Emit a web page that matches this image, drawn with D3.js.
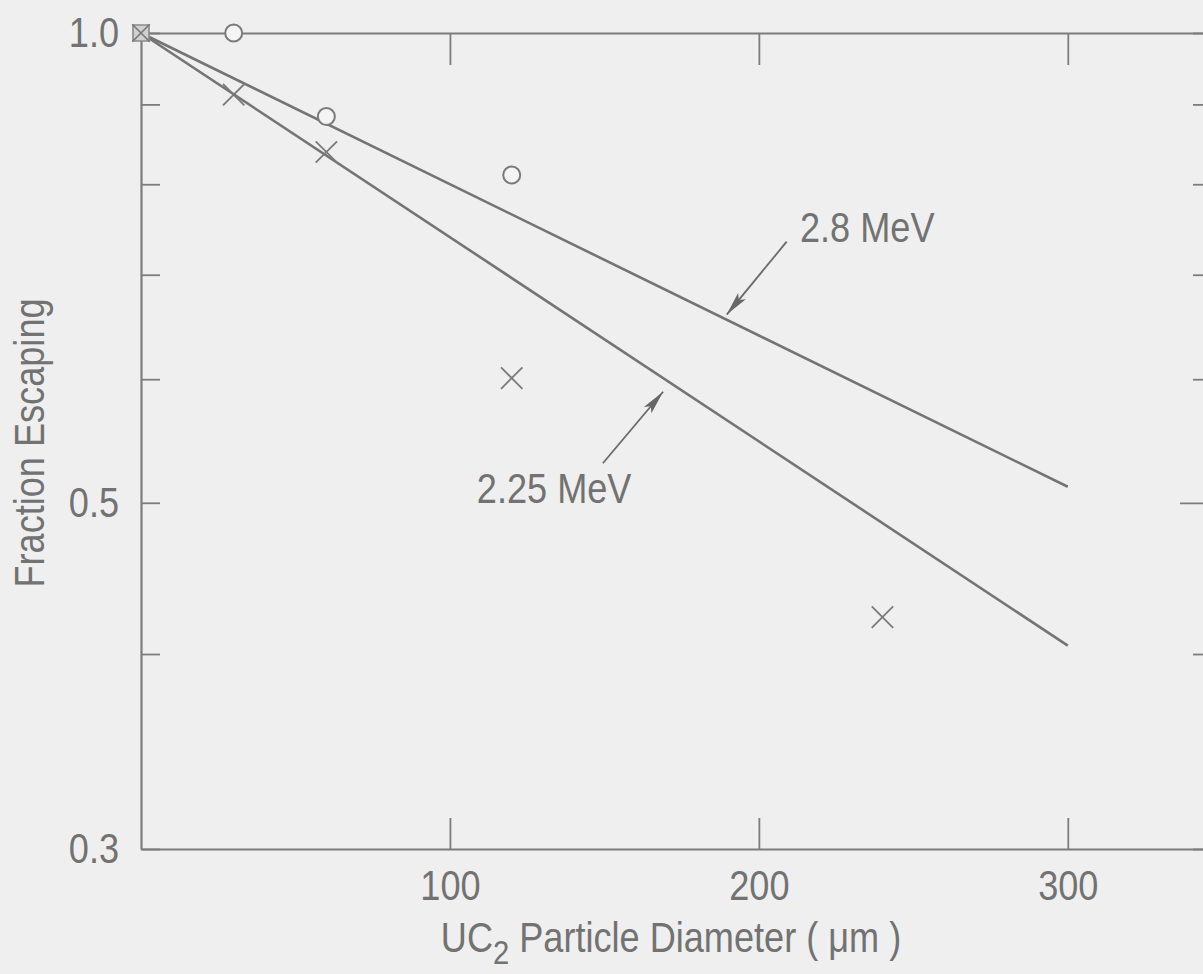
<!DOCTYPE html>
<html>
<head>
<meta charset="utf-8">
<script src="https://cdn.jsdelivr.net/npm/d3@7"></script>
<style>
  html, body { margin: 0; padding: 0; background: #efefef; }
  svg { display: block; }
  text { font-family: "Liberation Sans Narrow", "Arial Narrow", "Liberation Sans", sans-serif; fill: #727272; }
</style>
</head>
<body>
<svg id="chart" width="1203" height="974"></svg>
<script>
// ---- data ----
const xTicks = [100, 200, 300];
const yTicks = [0.3, 0.4, 0.5, 0.6, 0.7, 0.8, 0.9, 1.0];
const yLabelTicks = [0.3, 0.5, 1.0];

// measured points, 2.8 MeV (circles)
const circleX = [30, 60, 120];
const circleY = [1.0, 0.884, 0.811];
// measured points, 2.25 MeV (crosses)
const crossX = [30, 60, 120, 240];
const crossY = [0.913, 0.839, 0.601, 0.4224];
// shared point at origin
const sharedX = [0];
const sharedY = [1.0];

// calculated curves
const curveX = [0, 300];
const curve28 = [1.0, 0.512];
const curve225 = [1.0, 0.405];

// annotations (data coordinates)
const labels = ["2.8 MeV", "2.25 MeV"];
const labelX = [213.3, 108.7];
const labelY = [0.735, 0.500];
const arrowFromX = [209, 149.5];
const arrowFromY = [0.735, 0.530];
const arrowToX = [189.6, 169];
const arrowToY = [0.66, 0.589];

// ---- chart ----
(function () {
const svg = d3.select("#chart");
const mL = 141, mR = 1213, mT = 33, mB = 849;
const ink = "#7c7c7c";
const FS = 42, SQ = 0.86;

function squeeze(sel) {
  sel.each(function () {
    const w = this.getComputedTextLength();
    if (w > 0) d3.select(this).attr("textLength", w * SQ).attr("lengthAdjust", "spacingAndGlyphs");
  });
}

const x = d3.scaleLinear().domain([0, 347]).range([mL, mR]);
const y = d3.scaleLog().domain([0.3, 1.0]).range([mB, mT]);

const fmt = d => yLabelTicks.includes(d) ? d3.format(".1f")(d) : "";

const gL = svg.append("g").attr("transform", `translate(${mL},0)`)
  .call(d3.axisLeft(y).tickValues(yTicks).tickFormat(fmt).tickSizeInner(-19).tickSizeOuter(0).tickPadding(22));
const gR = svg.append("g").attr("transform", `translate(${mR},0)`)
  .call(d3.axisRight(y).tickValues(yTicks).tickFormat("").tickSizeInner(-20).tickSizeOuter(0));
gR.selectAll(".tick line").attr("x2", d => d === 0.5 ? -33 : -20);
const gB = svg.append("g").attr("transform", `translate(0,${mB})`)
  .call(d3.axisBottom(x).tickValues(xTicks).tickFormat(d3.format("d")).tickSizeInner(-31).tickSizeOuter(0).tickPadding(21));
const gT = svg.append("g").attr("transform", `translate(0,${mT})`)
  .call(d3.axisTop(x).tickValues(xTicks).tickFormat("").tickSizeInner(-32).tickSizeOuter(0));

[gL, gR, gB, gT].forEach(g => {
  g.attr("font-family", null).attr("font-size", null);
  g.select(".domain").attr("stroke", ink).attr("stroke-width", 2.2);
  g.selectAll(".tick line").attr("stroke", ink).attr("stroke-width", 1.8);
  g.selectAll(".tick text").attr("font-size", FS).attr("fill", "#727272").call(squeeze);
});

const line = d3.line().x(d => x(d[0])).y(d => y(d[1]));
[curve28, curve225].forEach(c => {
  svg.append("path")
    .attr("d", line(curveX.map((v, i) => [v, c[i]])))
    .attr("fill", "none").attr("stroke", "#747474").attr("stroke-width", 2.6);
});

svg.append("g").selectAll("circle").data(circleX.map((v, i) => [v, circleY[i]])).join("circle")
  .attr("cx", d => x(d[0])).attr("cy", d => y(d[1])).attr("r", 8.5)
  .attr("fill", "#f4f4f4").attr("stroke", "#7a7a7a").attr("stroke-width", 2);

const crossPath = d3.symbol().type(d3.symbolX).size(300);
svg.append("g").selectAll("path").data(crossX.map((v, i) => [v, crossY[i]])).join("path")
  .attr("transform", d => `translate(${x(d[0])},${y(d[1])})`)
  .attr("d", crossPath()).attr("fill", "none").attr("stroke", "#7a7a7a").attr("stroke-width", 1.8);

const shared = svg.append("g").selectAll("g").data(sharedX.map((v, i) => [v, sharedY[i]])).join("g")
  .attr("transform", d => `translate(${x(d[0])},${y(d[1])})`);
shared.append("path").attr("d", d3.symbol().type(d3.symbolSquare).size(256)())
  .attr("fill", "#d0d0d0").attr("stroke", "#8a8a8a").attr("stroke-width", 1.6);
shared.append("path").attr("d", d3.symbol().type(d3.symbolX).size(200)())
  .attr("fill", "none").attr("stroke", "#777").attr("stroke-width", 1.6);

const defs = svg.append("defs");
defs.append("marker").attr("id", "ah").attr("viewBox", "0 0 24 12")
  .attr("refX", 24).attr("refY", 6).attr("markerWidth", 24).attr("markerHeight", 12)
  .attr("markerUnits", "userSpaceOnUse").attr("orient", "auto")
  .append("path").attr("d", "M0,1 L24,6 L0,11 L5,6 Z").attr("fill", "#686868");

labels.forEach((t, i) => {
  svg.append("line")
    .attr("x1", x(arrowFromX[i])).attr("y1", y(arrowFromY[i]))
    .attr("x2", x(arrowToX[i])).attr("y2", y(arrowToY[i]))
    .attr("stroke", "#6a6a6a").attr("stroke-width", 1.8).attr("marker-end", "url(#ah)");
  svg.append("text").attr("x", x(labelX[i])).attr("y", y(labelY[i]))
    .attr("font-size", FS).text(t).call(squeeze);
});

svg.append("text")
  .attr("transform", `translate(44,443) rotate(-90)`)
  .attr("text-anchor", "middle").attr("font-size", FS)
  .text("Fraction Escaping").call(squeeze);

const xg = svg.append("g").attr("transform", `translate(671,952) scale(${SQ},1)`);
const xt = xg.append("text").attr("x", 0).attr("y", 0).attr("text-anchor", "middle").attr("font-size", FS);
xt.append("tspan").text("UC");
xt.append("tspan").attr("dy", 12).attr("font-size", 34).text("2");
xt.append("tspan").attr("dy", -12).text(" Particle Diameter ( μm )");
})();
</script>
</body>
</html>
